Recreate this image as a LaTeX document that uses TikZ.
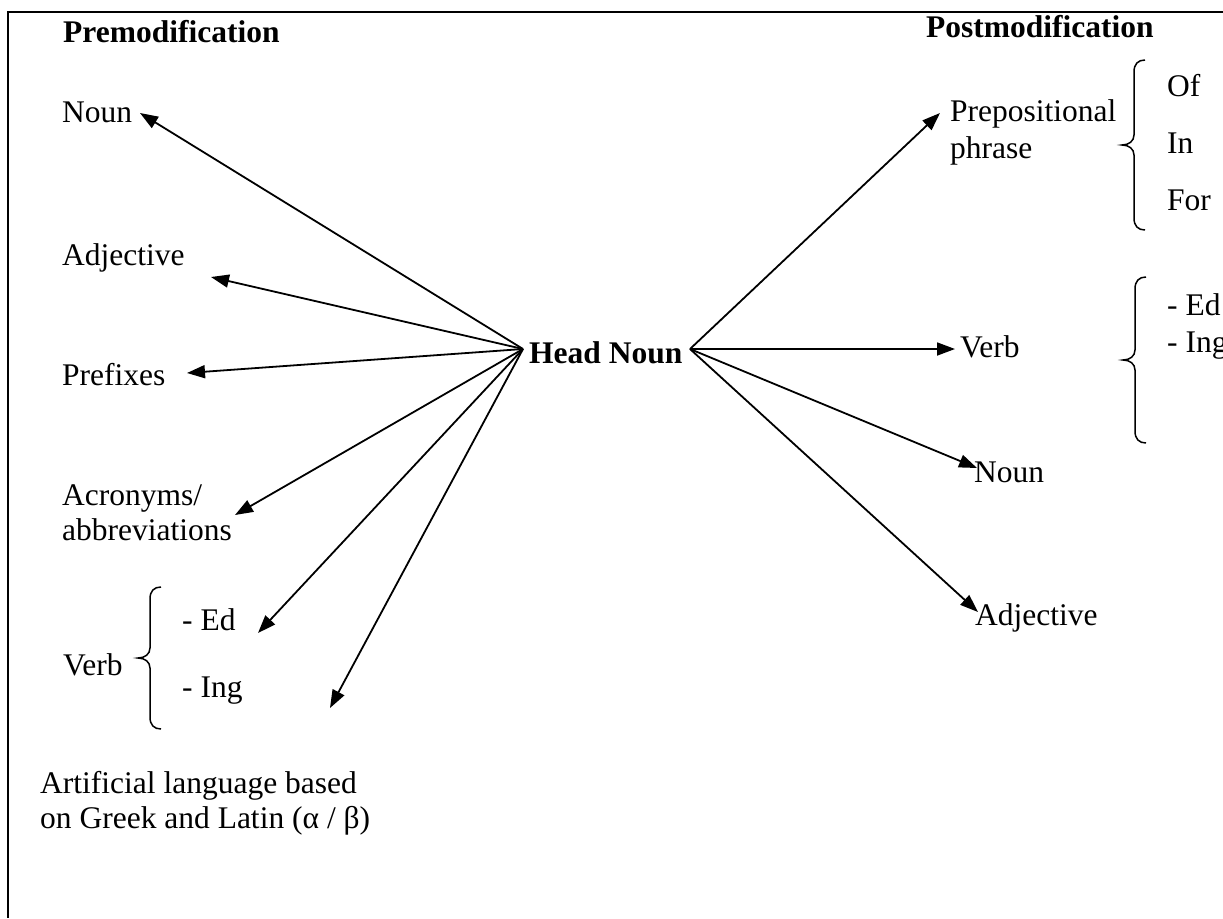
\documentclass[tikz,border=0pt]{standalone}
\usepackage{fontspec}
\setmainfont{Liberation Serif}
\usetikzlibrary{arrows.meta}
\newcommand\curlybrace[4]{% x, top, bottom, middle
\draw[brc] ({#1+11},#2) .. controls ({#1+4},#2) and (#1,{#2+4}) .. (#1,{#2+12}) -- (#1,{#4-10}) .. controls (#1,{#4-4}) and ({#1-5},#4) .. ({#1-12},#4) .. controls ({#1-5},#4) and (#1,{#4+4}) .. (#1,{#4+10}) -- (#1,{#3-12}) .. controls (#1,{#3-4}) and ({#1+4},#3) .. ({#1+11},#3);}
\begin{document}
\begin{tikzpicture}[x=1pt,y=-1pt,
  lbl/.style={anchor=base west, inner sep=0pt, font=\fontsize{31.5}{36}\selectfont},
  bld/.style={anchor=base west, inner sep=0pt, font=\fontsize{31.5}{36}\selectfont\bfseries},
  conn/.style={line width=1.8pt, -{Triangle[length=18pt,width=13pt]}},
  brc/.style={line width=1.5pt},
  frame/.style={line width=2pt}]
\useasboundingbox (0,0) rectangle (1223,918);
\draw[frame] (1223,12) -- (8,12) -- (8,918);

% titles
\node[bld] (pre) at (63,42) {Premodification};
\node[bld] (post) at (926,37) {Postmodification};
\node[bld] (hn) at (529,363) {Head Noun};

% left labels
\node[lbl] (lnoun) at (62,122) {Noun};
\node[lbl] (ladj) at (62,265) {Adjective};
\node[lbl] (lpre) at (62,385) {Prefixes};
\node[lbl] (lacr1) at (62,505) {Acronyms/};
\node[lbl] (lacr2) at (62,540) {abbreviations};
\node[lbl] (lverb) at (63,675) {Verb};
\node[lbl] (led) at (182,630) {- Ed};
\node[lbl] (ling) at (182,697) {- Ing};
\node[lbl] (art1) at (40,793) {Artificial language based};
\node[lbl] (art2) at (40,828) {on Greek and Latin (α / β)};

% right labels
\node[lbl] (prep1) at (950,121) {Prepositional};
\node[lbl] (prep2) at (950,158) {phrase};
\node[lbl] (of) at (1167,96) {Of};
\node[lbl] (in) at (1167,153) {In};
\node[lbl] (for) at (1167,210) {For};
\node[lbl] (rverb) at (960,357) {Verb};
\node[lbl] (red) at (1167,315) {- Ed};
\node[lbl] (ring) at (1167,352) {- Ing};
\node[lbl] (rnoun) at (974,482) {Noun};
\node[lbl] (radj) at (975,625) {Adjective};

% braces
\curlybrace{150}{587}{729}{658}
\curlybrace{1134}{60}{230}{145}
\curlybrace{1135}{277}{443}{360}

% connector ends
\coordinate (hL) at (523,349);
\coordinate (hR) at (690,349);
\coordinate (tNoun) at (140,113);
\coordinate (tAdj) at (211,277);
\coordinate (tPre) at (187,373);
\coordinate (tAcr) at (235,515);
\coordinate (tEd) at (258,633);
\coordinate (tArt) at (330,708);
\coordinate (tPrep) at (940,113);
\coordinate (tVerb) at (955,349);
\coordinate (tRNoun) at (977,468);
\coordinate (tRAdj) at (978,612);

\draw[conn] (hL) -- (tNoun);
\draw[conn] (hL) -- (tAdj);
\draw[conn] (hL) -- (tPre);
\draw[conn] (hL) -- (tAcr);
\draw[conn] (hL) -- (tEd);
\draw[conn] (hL) -- (tArt);
\draw[conn] (hR) -- (tPrep);
\draw[conn] (hR) -- (tVerb);
\draw[conn] (hR) -- (tRNoun);
\draw[conn] (hR) -- (tRAdj);
\end{tikzpicture}
\end{document}
